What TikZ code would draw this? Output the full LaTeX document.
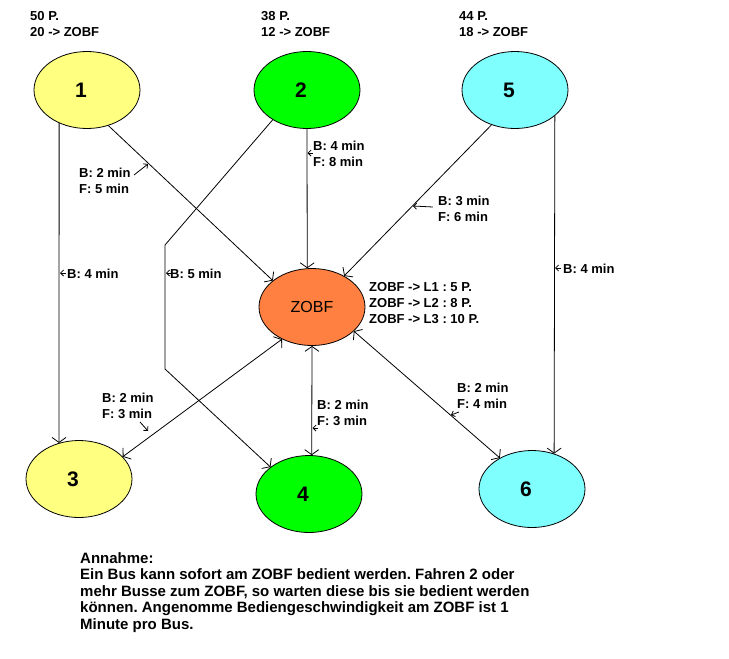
\documentclass[tikz,border=0pt]{standalone}
\usepackage{fontspec}
\setmainfont{Liberation Sans}
\usetikzlibrary{shapes.geometric,arrows.meta}
\definecolor{yel}{RGB}{255,255,128}
\definecolor{grn}{RGB}{0,255,0}
\definecolor{cyn}{RGB}{128,255,255}
\definecolor{org}{RGB}{255,128,64}
\newcommand{\offs}[1]{\hspace*{-12pt}#1}
\frenchspacing
\begin{document}
\begin{tikzpicture}[x=1pt,y=-1pt,
  bub/.style={ellipse,draw,line width=0.8pt,minimum width=106pt,minimum height=77pt,inner sep=0pt,font=\fontsize{21}{24}\selectfont\bfseries},
  lab/.style={anchor=base west,inner sep=0pt,font=\fontsize{13}{15}\selectfont\bfseries},
  big/.style={anchor=base west,inner sep=0pt,font=\fontsize{15}{17}\selectfont\bfseries},
  conn/.style={line width=0.8pt,-{Straight Barb[length=5pt,width=14pt]}},
  both/.style={line width=0.8pt,{Straight Barb[length=5pt,width=14pt]}-{Straight Barb[length=5pt,width=14pt]}},
  ptr/.style={line width=0.8pt,-{Straight Barb[length=3pt,width=6pt]}},
]
\useasboundingbox[fill=white] (0,0) rectangle (729,659);
% nodes
\node[bub,fill=yel] (n1) at (87,90) {\offs{1}};
\node[bub,fill=grn] (n2) at (307,90) {\offs{2}};
\node[bub,fill=cyn] (n5) at (515,90) {\offs{5}};
\node[bub,fill=org,font=\fontsize{16}{19}\selectfont] (z) at (312,307) {ZOBF};
\node[bub,fill=yel] (n3) at (79,479) {\offs{3}};
\node[bub,fill=grn] (n4) at (309,494) {\offs{4}};
\node[bub,fill=cyn] (n6) at (532,489) {\offs{6}};
% top labels
\node[lab] (t1a) at (30,20.5) {50 P.};
\node[lab] (t1b) at (30,36.5) {20 -> ZOBF};
\node[lab] (t2a) at (261,20.5) {38 P.};
\node[lab] (t2b) at (261,36.5) {12 -> ZOBF};
\node[lab] (t5a) at (459,20) {44 P.};
\node[lab] (t5b) at (459,36) {18 -> ZOBF};
% connectors
\draw[conn] (n1.-130.6) -- (n3.119);
\draw[conn] (n1.-59.7) -- (z.146);
\draw[conn] (n2.-90) -- (z.97.3);
\coordinate (b1) at (165,245);
\coordinate (b2) at (165,369);
\draw[conn] (n2.221.4) -- (b1) -- (b2) -- (n4.145.3);
\draw[conn] (n5.236.3) -- (z.44);
\draw[conn] (n5.-33.8) -- (n6.58.2);
\draw[both] (z.227.7) -- (n3.27.1);
\draw[both] (z.-90) -- (n4.86);
\draw[both] (z.-30.2) -- (n6.136.8);
% edge labels
\node[lab] (l13) at (67,278) {B: 4 min};
\node[lab] (l1za) at (79,177) {B: 2 min};
\node[lab] (l1zb) at (79,193) {F: 5 min};
\node[lab] (l24) at (170,278) {B: 5 min};
\node[lab] (l2za) at (313,150) {B: 4 min};
\node[lab] (l2zb) at (313,166) {F: 8 min};
\node[lab] (l5za) at (438,205) {B: 3 min};
\node[lab] (l5zb) at (438,221) {F: 6 min};
\node[lab] (l56) at (563,273) {B: 4 min};
\node[lab] (lz3a) at (102,402) {B: 2 min};
\node[lab] (lz3b) at (102,418) {F: 3 min};
\node[lab] (lz4a) at (317,409) {B: 2 min};
\node[lab] (lz4b) at (317,425) {F: 3 min};
\node[lab] (lz6a) at (457,392) {B: 2 min};
\node[lab] (lz6b) at (457,408) {F: 4 min};
\node[lab] (zt1) at (369,291) {ZOBF -> L1 : 5 P.};
\node[lab] (zt2) at (369,307) {ZOBF -> L2 : 8 P.};
\node[lab] (zt3) at (369,323) {ZOBF -> L3 : 10 P.};
% pointer arrows
\coordinate (p1a) at (134,175); \coordinate (p1b) at (148,164);
\draw[ptr] (p1a) -- (p1b);
\coordinate (p2a) at (66,273); \coordinate (p2b) at (60,273);
\draw[ptr] (p2a) -- (p2b);
\coordinate (p3a) at (171,273); \coordinate (p3b) at (166,273);
\draw[ptr] (p3a) -- (p3b);
\coordinate (p4a) at (313,153); \coordinate (p4b) at (307.5,153);
\draw[ptr] (p4a) -- (p4b);
\coordinate (p5a) at (433,207); \coordinate (p5b) at (413,206);
\draw[ptr] (p5a) -- (p5b);
\coordinate (p6a) at (561,268); \coordinate (p6b) at (555,268);
\draw[ptr] (p6a) -- (p6b);
\coordinate (p7a) at (140,422); \coordinate (p7b) at (148,431);
\draw[ptr] (p7a) -- (p7b);
\coordinate (p8a) at (318,428); \coordinate (p8b) at (312.5,428);
\draw[ptr] (p8a) -- (p8b);
\coordinate (p9a) at (459,412); \coordinate (p9b) at (451,415);
\draw[ptr] (p9a) -- (p9b);
% bottom text
\node[big] (a1) at (80,563) {Annahme:};
\node[big] (a2) at (80,579.6) {Ein Bus kann sofort am ZOBF bedient werden. Fahren 2 oder};
\node[big] (a3) at (80,596.2) {mehr Busse zum ZOBF, so warten diese bis sie bedient werden};
\node[big] (a4) at (80,612.8) {können. Angenomme Bediengeschwindigkeit am ZOBF ist 1};
\node[big] (a5) at (80,629.4) {Minute pro Bus.};
\end{tikzpicture}
\end{document}
